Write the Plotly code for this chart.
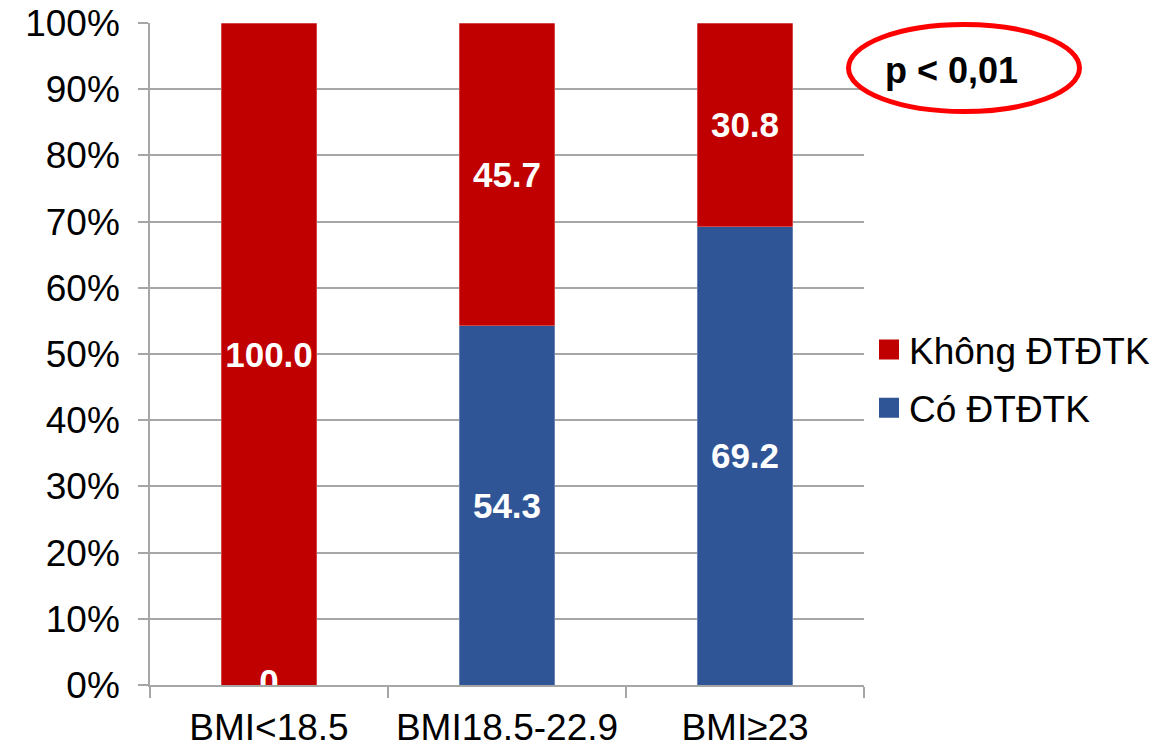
import plotly.graph_objects as go

# BMI groups and the share (%) of each outcome within the group
categories = ["BMI<18.5", "BMI18.5-22.9", "BMI≥23"]
co_dtdtk = [0, 54.3, 69.2]
khong_dtdtk = [100.0, 45.7, 30.8]
series_names = ["Không ĐTĐTK", "Có ĐTĐTK"]
y_ticks = list(range(0, 101, 10))
y_tick_labels = [f"{v}%" for v in y_ticks]
p_value_text = "p < 0,01"

RED = "#C00000"
BLUE = "#2F5597"
GRID = "#A6A6A6"
FONT = "Liberation Sans, Arial, sans-serif"

W, H = 1161, 747
L, R, T, B = 150, 297, 23, 62
plot_w = W - L - R
plot_h = H - T - B


def px_x(x):
    return (x - L) / plot_w


def px_y(y):
    return (H - B - y) / plot_h


fig = go.Figure()

bar_text_font = dict(family=FONT, size=35, color="white", weight="bold")

fig.add_trace(go.Bar(
    x=categories, y=co_dtdtk, name=series_names[1],
    marker=dict(color=BLUE, line=dict(width=0.6, color="rgba(255,255,255,0.45)")),
    text=[f"{v:.1f}" if v else "" for v in co_dtdtk],
    textposition="inside", insidetextanchor="middle",
    textfont=bar_text_font, constraintext="none",
    showlegend=False, hoverinfo="skip",
))
fig.add_trace(go.Bar(
    x=categories, y=khong_dtdtk, name=series_names[0],
    marker=dict(color=RED, line=dict(width=0.6, color="rgba(255,255,255,0.45)")),
    text=[f"{v:.1f}" if v else "" for v in khong_dtdtk],
    textposition="inside", insidetextanchor="middle",
    textfont=bar_text_font, constraintext="none",
    showlegend=False, hoverinfo="skip",
))

# zero-height segments still carry their value label at the baseline
zero_x = [c for c, v in zip(categories, co_dtdtk) if v == 0]
fig.add_trace(go.Scatter(
    x=zero_x, y=[0] * len(zero_x), mode="text",
    text=["0"] * len(zero_x), textposition="middle center",
    textfont=bar_text_font, cliponaxis=True,
    showlegend=False, hoverinfo="skip",
))

# legend entries with larger square swatches
for name, color, grp in [(series_names[0], RED, "a"), (series_names[1], BLUE, "b")]:
    fig.add_trace(go.Scatter(
        x=[None], y=[None], mode="markers", name=name, legendgroup=grp,
        marker=dict(symbol="square", size=16, color=color, line=dict(width=4, color=color)),
    ))

fig.update_layout(
    width=W, height=H,
    margin=dict(l=L, r=R, t=T, b=B, autoexpand=False),
    barmode="stack", bargap=0.6,
    plot_bgcolor="white", paper_bgcolor="white",
    font=dict(family=FONT, size=37, color="black"),
    legend=dict(
        x=px_x(869), xanchor="left", y=px_y(319), yanchor="top",
        traceorder="grouped", tracegroupgap=7,
        font=dict(family=FONT, size=37, color="black"),
        bgcolor="rgba(0,0,0,0)", itemclick=False,
    ),
    xaxis=dict(
        type="category", showgrid=False, showline=True, linecolor=GRID, linewidth=1.5,
        ticks="outside", tickson="boundaries", ticklen=11, tickcolor=GRID, tickwidth=1.5,
        tickfont=dict(family=FONT, size=37, color="black"),
        ticklabelstandoff=9, automargin=False,
    ),
    yaxis=dict(
        range=[0, 100], tickvals=y_ticks, ticktext=y_tick_labels,
        showgrid=True, gridcolor=GRID, gridwidth=1.5,
        showline=True, linecolor=GRID, linewidth=1.5,
        ticks="outside", ticklen=10, tickcolor=GRID, tickwidth=1.5,
        tickfont=dict(family=FONT, size=37, color="black"),
        ticklabelstandoff=11, zeroline=False, automargin=False,
    ),
    showlegend=True,
)

# significance note circled in red
fig.add_shape(
    type="circle", xref="paper", yref="paper",
    x0=px_x(848.5), x1=px_x(1079.5), y0=px_y(111.5), y1=px_y(24.5),
    line=dict(color="#FF0000", width=5), fillcolor="rgba(0,0,0,0)",
)
fig.add_annotation(
    xref="paper", yref="paper", x=px_x(951), y=px_y(70),
    xanchor="center", yanchor="middle", showarrow=False,
    text=p_value_text, font=dict(family=FONT, size=36, color="black", weight="bold"),
)

fig.write_html("out.html")
